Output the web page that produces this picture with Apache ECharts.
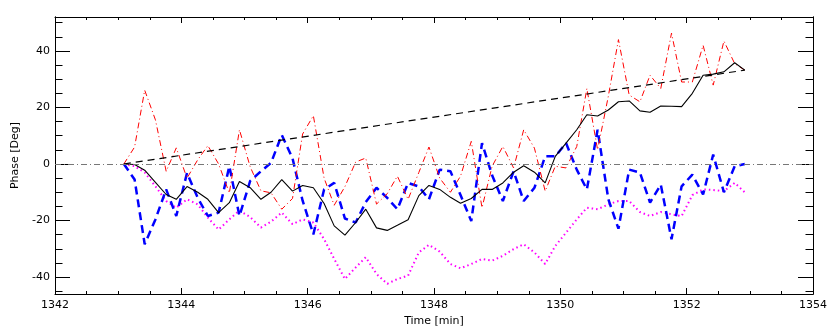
<!DOCTYPE html>
<html>
<head>
<meta charset="utf-8">
<script src="https://cdn.jsdelivr.net/npm/echarts@6/dist/echarts.min.js"></script>
<style>
  html, body { margin: 0; padding: 0; background: #fff; }
  #chart { width: 830px; height: 332px; }
</style>
</head>
<body>
<div id="chart"></div>
<script>
// time of each sample [min]
const times = [
  1343.09, 1343.26, 1343.42, 1343.59, 1343.76, 1343.92, 1344.09, 1344.26, 1344.42, 1344.59,
  1344.76, 1344.92, 1345.09, 1345.26, 1345.42, 1345.59, 1345.76, 1345.92, 1346.09, 1346.26,
  1346.42, 1346.59, 1346.76, 1346.92, 1347.09, 1347.26, 1347.42, 1347.59, 1347.76, 1347.92,
  1348.09, 1348.26, 1348.42, 1348.59, 1348.76, 1348.92, 1349.09, 1349.26, 1349.42, 1349.59,
  1349.76, 1349.92, 1350.09, 1350.26, 1350.42, 1350.59, 1350.76, 1350.92, 1351.09, 1351.26,
  1351.42, 1351.59, 1351.76, 1351.92, 1352.09, 1352.26, 1352.42, 1352.59, 1352.76, 1352.92
]

// phase curves [deg]
const phase_black = [
  0, -0.2, -2.2, -6.5, -10.8, -12.5, -8, -10, -12.5, -17.2,
  -13.7, -6.2, -8.4, -12.5, -10, -5.5, -9.6, -7.6, -8.4, -14,
  -21.9, -25.2, -20.7, -16, -22.6, -23.5, -21.7, -19.7, -11.2, -7.6,
  -9, -11.8, -13.9, -12.2, -9, -9, -6.7, -2.9, -0.6, -2.9,
  -6.7, 2.7, 7.4, 12.1, 17.4, 17, 19.1, 22, 22.3, 18.8,
  18.3, 20.5, 20.4, 20.3, 25, 31.4, 31.8, 32.6, 35.8, 33.2
]
const phase_red = [
  0, 6, 26.1, 15.6, -2.6, 5.7, -5, 1.5, 6.5, 0,
  -10.3, 12.1, -1, -9.5, -10.2, -16, -12.2, 10.6, 17.1, -5,
  -14.6, -8, 0.7, 2.1, -14.2, -10.5, -4.3, -12.5, -3, 6,
  -5, -10, -4.3, 8, -15.5, -0.8, 6.2, -1.4, 12.1, 5.6,
  -9.6, -0.8, -1.4, 6.2, 26.7, 5, 24, 44, 24.4, 22,
  31.4, 26.7, 46.3, 29, 29, 42, 27.9, 43.5, 35.5, 33.2
]
const phase_blue = [
  0, -5.5, -28.4, -19.6, -9, -18.4, -3.2, -12, -18.4, -17.2,
  -0.8, -18.4, -6, -2.6, 0.4, 10.3, 2, -13, -24.9, -9,
  -6.7, -19.3, -20.7, -13.5, -8.4, -12, -16, -6.7, -8, -12.5,
  -2, -2.6, -11, -20.2, 7.4, -4, -13.1, -2.6, -13.1, -8.4,
  2.7, 2.7, 7.4, -2, -9, 12.1, -12.5, -22.9, -2, -3,
  -13.7, -7.3, -26.6, -7.9, -3.8, -10.8, 3.3, -10, -0.8, 0
]
const phase_magenta = [
  0, -0.8, -3, -7.9, -13.1, -15.5, -12.5, -14.3, -19, -23.2,
  -19.6, -16.5, -18.8, -22.5, -20.4, -17.2, -21.3, -19.6, -20.7, -26.6,
  -33.6, -40.7, -36.6, -33, -38.9, -42.4, -40.7, -39.5, -31.3, -28.6,
  -31, -35.4, -36.9, -35.4, -33.6, -34.2, -32.5, -30.1, -28.4, -31.3,
  -35.4, -29, -24.3, -19.6, -15.5, -16, -14.3, -13.1, -13.1, -17,
  -18.4, -17, -17.8, -18.4, -11, -9, -9.2, -9.6, -6.7, -10
]
// straight dashed trend: start and end
const trend_t = [1343.09, 1352.92]
const trend_v = [0, 33.2]

// axis ticks
const x_range = [1342, 1354]
const y_range = [-46, 52]
const y_major = [-40, -20, 0, 20, 40]
const y_minor = [-45, -40, -35, -30, -25, -20, -15, -10, -5, 0, 5, 10, 15, 20, 25, 30, 35, 40, 45, 50]

const pairs = (xs, ys) => ys.map((v, i) => [xs[i], v])

const font = {color: '#000', fontSize: 11, fontFamily: 'DejaVu Sans'}

function x_axis(pos, labels) {
  return {
    type: 'value', position: pos, min: x_range[0], max: x_range[1], interval: 2,
    name: labels ? 'Time [min]' : '', nameLocation: 'middle', nameGap: 22, nameTextStyle: font,
    axisLine: {show: true, onZero: false, lineStyle: {color: '#000', width: 1}},
    axisTick: {show: true, inside: true, length: 6, lineStyle: {color: '#000'}},
    minorTick: {show: true, splitNumber: 4, length: 3, lineStyle: {color: '#000'}},
    axisLabel: {show: labels, margin: 6, formatter: v => String(v), ...font},
    splitLine: {show: false}
  }
}

function y_axis(pos, ticks, len, labels) {
  return {
    type: 'value', position: pos, min: y_range[0], max: y_range[1],
    name: labels ? 'Phase [Deg]' : '', nameLocation: 'middle', nameGap: 22, nameTextStyle: font,
    axisLine: {show: true, onZero: false, lineStyle: {color: '#000', width: 1}},
    axisTick: {show: true, inside: true, length: len, customValues: ticks, lineStyle: {color: '#000'}},
    axisLabel: {show: labels, margin: 5, customValues: y_major, ...font},
    splitLine: {show: false}
  }
}

const chart = echarts.init(document.getElementById('chart'))
chart.setOption({
  animation: false,
  grid: {left: 55, right: 16, top: 17, bottom: 36},
  xAxis: [x_axis('bottom', true), x_axis('top', false)],
  yAxis: [
    y_axis('left', y_major, 15, true),
    y_axis('left', y_minor, 7.5, false),
    y_axis('right', y_major, 15, false),
    y_axis('right', y_minor, 7.5, false)
  ],
  series: [
    {
      name: 'magenta', type: 'line', symbol: 'none', data: pairs(times, phase_magenta),
      lineStyle: {color: '#ff00ff', width: 2, type: [1.5, 3]}
    },
    {
      name: 'blue', type: 'line', symbol: 'none', data: pairs(times, phase_blue),
      lineStyle: {color: '#0000ff', width: 2.5, type: [8, 5]}
    },
    {
      name: 'red', type: 'line', symbol: 'none', data: pairs(times, phase_red),
      lineStyle: {color: '#ff0000', width: 1, type: [6, 3, 1, 3]}
    },
    {
      name: 'trend', type: 'line', symbol: 'none', data: pairs(trend_t, trend_v),
      lineStyle: {color: '#000', width: 1.2, type: [7, 5]}
    },
    {
      name: 'black', type: 'line', symbol: 'none', data: pairs(times, phase_black),
      lineStyle: {color: '#000', width: 1.1},
      markLine: {
        silent: true, symbol: 'none', label: {show: false},
        lineStyle: {color: '#777', width: 1, type: [6, 3, 1, 3]},
        data: [{yAxis: 0}]
      }
    }
  ]
})
</script>
</body>
</html>
